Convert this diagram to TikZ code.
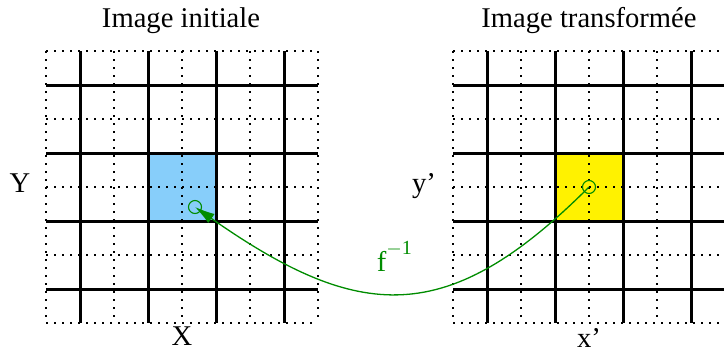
\documentclass[tikz,border=0pt]{standalone}
\usepackage{fontspec}
\setmainfont{Liberation Serif}
\usetikzlibrary{arrows.meta}

\definecolor{bleupix}{RGB}{135,206,250}
\definecolor{vertf}{RGB}{0,140,0}

\begin{document}
\begin{tikzpicture}[
  x=0.5pt, y=0.5pt,
  font=\fontsize{14.3}{17}\selectfont,
  fine/.style={line width=0.6pt, dash pattern=on 1pt off 3pt},
  gros/.style={line width=1.5pt},
  pt/.style={draw=vertf, circle, line width=0.55pt, minimum size=6.5pt, inner sep=0pt},
  fleche/.style={draw=vertf, line width=0.65pt, -{Latex[length=10pt,width=5.5pt]}},
  lbl/.style={text=vertf},
]
  \useasboundingbox (0,0) rectangle (724,-349);

  % pixels choisis
  \fill[bleupix] (148,-153) rectangle (216,-221);
  \fill[yellow] (555,-153) rectangle (623,-221);

  % les deux grilles
  \foreach \gx in {46,453} {
    \foreach \k in {0,2,4,6,8} {
      \draw[fine] (\gx+34*\k,-51) -- (\gx+34*\k,-323);
      \draw[fine] (\gx,-51-34*\k) -- (\gx+272,-51-34*\k);
    }
    \foreach \k in {1,3,5,7} {
      \draw[gros] (\gx+34*\k,-51) -- (\gx+34*\k,-323);
      \draw[gros] (\gx,-51-34*\k) -- (\gx+272,-51-34*\k);
    }
  }

  \node (tA) at (181,-21) {Image initiale};
  \node (tB) at (589,-21) {Image transformée};
  \node (Y) at (20,-183) {Y};
  \node (X) at (182,-336) {X};
  \node (yp) at (424,-186) {y'};
  \node (xp) at (589,-338) {x'};

  \node[pt] (p) at (195,-207) {};
  \node[pt] (q) at (589,-187) {};

  \draw[fleche] (q.center) to[out=225,in=-35,looseness=1.3]
    node[lbl, above=7pt, xshift=-3pt]
      {f\raisebox{8.5pt}{\fontsize{10}{10}\selectfont$-$1}} (p.center);
\end{tikzpicture}
\end{document}
